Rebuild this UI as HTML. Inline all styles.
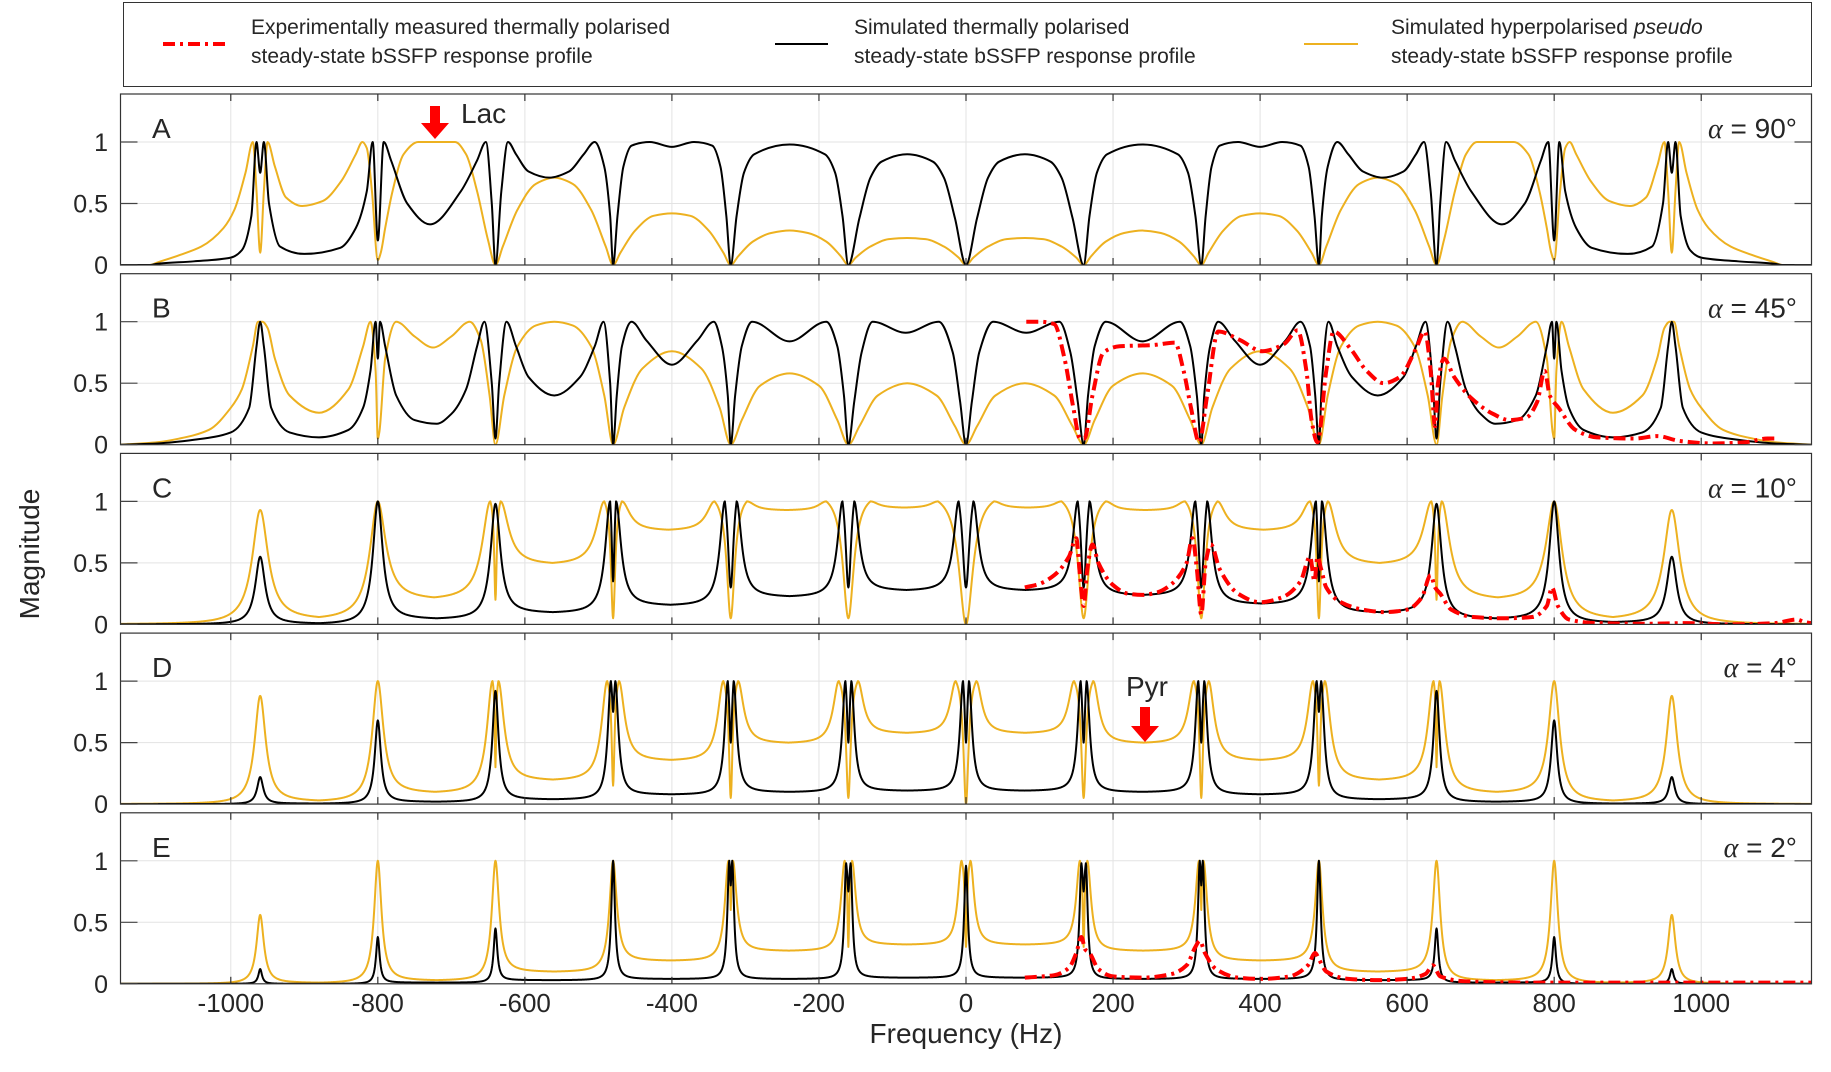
<!DOCTYPE html>
<html>
<head>
<meta charset="utf-8">
<style>
  html,body{margin:0;padding:0;background:#fff;}
  svg{display:block;}
  text{font-family:"Liberation Sans",Arial,sans-serif;fill:#262626;}
</style>
</head>
<body>
<svg id="chart" width="1831" height="1072" viewBox="0 0 1831 1072" xmlns="http://www.w3.org/2000/svg">
  <g id="legend">
    <rect x="123.5" y="2.5" width="1688" height="84" fill="#fff" stroke="#333" stroke-width="1"/>
    <g>
      <line x1="163" y1="44" x2="227" y2="44" stroke="#ff0000" stroke-width="4" stroke-dasharray="12 5 3 5"/>
      <text x="251" y="34" font-size="21">Experimentally measured thermally polarised</text>
      <text x="251" y="63" font-size="21">steady-state bSSFP response profile</text>
    </g>
    <g>
      <line x1="775" y1="44" x2="828" y2="44" stroke="#000" stroke-width="2"/>
      <text x="854" y="34" font-size="21">Simulated thermally polarised</text>
      <text x="854" y="63" font-size="21">steady-state bSSFP response profile</text>
    </g>
    <g>
      <line x1="1304" y1="44" x2="1358" y2="44" stroke="#EDB120" stroke-width="2"/>
      <text x="1391" y="34" font-size="21">Simulated hyperpolarised <tspan font-style="italic">pseudo</tspan></text>
      <text x="1391" y="63" font-size="21">steady-state bSSFP response profile</text>
    </g>
  </g>
  <g id="panels"></g>
  <text x="966" y="1043" font-size="28" text-anchor="middle">Frequency (Hz)</text>
  <text x="0" y="0" font-size="28" text-anchor="middle" transform="translate(39,554) rotate(-90)">Magnitude</text>
</svg>
<script>
// ---------------- data ----------------
const panelLetters = ["A","B","C","D","E"];
const flipAngles = ["90°","45°","10°","4°","2°"];
const xTicks = [-1000,-800,-600,-400,-200,0,200,400,600,800,1000];
const yTicks = [0,0.5,1];
const yTickLabels = ["0","0.5","1"];

// Panel A (symmetric, f >= 0 half)
const aBlackF = [0,15,30,45,80,115,130,145,160,168,178,192,240,288,302,312,320,326,334,345,370,400,430,455,466,474,480,484,492,505,520,540,567,595,612,623,632,640,645,653,665,687,729,760,782,792,800,807,815,830,851,900,933,948,955,960,965,972,985,1000,1050,1100,1110,1150];
const aBlackV = [0,.38,.71,.84,.9,.84,.71,.38,0,.4,.75,.9,.98,.9,.75,.4,0,.4,.8,.97,1,.96,1,.97,.8,.4,0,.4,.8,1,.9,.76,.71,.76,.9,1,.6,0,.5,1,.85,.6,.33,.5,.85,1,.2,1,.6,.3,.14,.09,.15,.5,1,.75,1,.4,.12,.06,.03,.01,0,0];
const aOrangeF = [0,10,30,55,80,105,130,150,160,170,190,215,240,265,290,310,320,330,350,375,400,425,450,470,480,490,510,535,560,585,610,630,640,650,665,680,695,745,765,780,790,796,800,808,815,821,830,850,875,903,925,940,950,955,960,965,970,980,995,1010,1040,1070,1100,1110,1150];
const aOrangeV = [0,.06,.15,.21,.22,.21,.15,.06,0,.07,.19,.26,.28,.26,.19,.07,0,.1,.28,.4,.42,.4,.28,.1,0,.15,.45,.66,.71,.66,.45,.15,0,.2,.6,.9,1,1,.9,.6,.3,.1,.04,.6,.95,1,.9,.68,.52,.48,.55,.8,1,.6,.1,.6,1,.75,.45,.3,.15,.08,.02,0,0];

// Panel B (symmetric half)
const bBlackF = [0,8,18,37,82,127,142,152,160,166,175,190,240,291,305,314,320,324,332,343,365,400,435,455,468,475,480,484,493,505,525,560,595,612,625,635,640,645,655,665,680,700,720,750,775,790,797,800,803,810,820,840,880,920,945,955,960,965,975,1000,1050,1100,1150];
const bBlackV = [0,.35,.75,1,.91,1,.75,.35,0,.4,.8,1,.84,1,.8,.4,0,.4,.8,1,.85,.65,.85,1,.8,.4,0,.5,1,.8,.55,.4,.55,.8,1,.5,.05,.5,1,.8,.45,.25,.17,.2,.4,.8,1,.7,1,.6,.3,.12,.06,.1,.3,.8,1,.8,.3,.1,.04,.01,0];
const bOrangeF = [0,15,40,80,120,145,160,175,200,240,280,305,320,335,360,400,440,465,480,492,510,535,560,585,610,628,640,648,660,675,700,725,750,775,790,798,800,803,810,820,840,880,920,940,950,957,963,970,985,1000,1030,1070,1100,1150];
const bOrangeV = [0,.15,.4,.5,.4,.15,0,.2,.48,.58,.48,.2,0,.3,.62,.76,.62,.3,0,.4,.8,.97,1,.97,.8,.4,0,.4,.85,1,.88,.79,.88,1,.7,.1,.05,.6,1,.8,.45,.26,.4,.7,.95,1,1,.8,.45,.3,.12,.05,.02,0];

// Experimental (red) series
const redBF = [82,100,120,134,146,155,161,172,187,209,254,284,296,306,317,328,343,373,403,433,451,463,470,478,490,500,523,545,568,590,612,624,632,638,642,650,664,687,717,739,762,777,787,794,806,829,858,910,940,971,1015,1060,1090,1100];
const redBV = [1,1,.98,.7,.3,.05,.05,.4,.75,.8,.81,.83,.6,.3,.02,.4,.92,.85,.76,.82,.93,.6,.2,.02,.6,.92,.78,.6,.5,.55,.78,.92,.6,.15,.5,.7,.55,.38,.25,.2,.22,.35,.6,.4,.3,.12,.06,.05,.07,.03,.01,.02,.05,.05];
const redCF = [80,100,120,140,150,155,160,165,172,180,200,220,240,260,280,300,308,314,320,326,333,345,370,400,430,455,468,474,478,483,490,510,540,570,600,620,632,638,645,660,690,730,770,790,797,805,820,860,920,980,1040,1100,1130,1140,1150];
const redCV = [.3,.33,.4,.55,.7,.4,.15,.45,.65,.5,.32,.25,.24,.26,.33,.5,.7,.45,.08,.5,.65,.45,.25,.18,.22,.35,.55,.35,.55,.45,.3,.18,.12,.1,.12,.22,.4,.3,.25,.12,.06,.05,.06,.15,.3,.15,.04,.01,.005,.01,0,.01,.04,.02,.01];
const redEF = [80,120,140,150,157,162,168,180,200,240,280,300,312,318,325,340,370,400,440,465,475,480,490,520,560,600,625,635,645,680,760,1150];
const redEV = [.05,.07,.13,.25,.38,.28,.25,.12,.06,.05,.08,.15,.3,.35,.25,.12,.05,.04,.06,.15,.25,.2,.1,.04,.03,.04,.08,.15,.06,.02,.01,.01];

// Panels C-E: resonance peaks at centres
const centers = [-960,-800,-640,-480,-320,-160,0,160,320,480,640,800,960];
const cBlackH = [.55,1,.98,1,1,1,1,1,1,1,.98,1,.55];
const cBlackSplit = [0,0,0,4,8,8,10,8,8,4,0,0,0];
const cBlackDip = [0,0,0,.35,.3,.3,.3,.3,.3,.35,0,0,0];
const cBlackValley = [0,.01,.05,.1,.16,.23,.28,.28,.24,.17,.1,.05,.02,0];
const cOrangeH = [.93,1,1,1,1,1,1,1,1,1,1,1,.93];
const cOrangeSplit = [0,0,7,12,22,30,38,30,22,12,7,0,0];
const cOrangeDip = [0,0,.2,.05,.05,.05,0,.05,.05,.05,.2,0,0];
const cOrangeValley = [0,.06,.22,.5,.77,.93,.95,.95,.93,.77,.5,.22,.06,0];
const dBlackH = [.22,.68,.92,1,1,1,1,1,1,1,.92,.68,.22];
const dBlackSplit = [0,0,0,3,4,4,4,4,4,3,0,0,0];
const dBlackDip = [0,0,0,.75,.5,.5,.5,.5,.5,.75,0,0,0];
const dBlackValley = [0,.005,.02,.04,.08,.1,.11,.11,.1,.08,.04,.02,.005,0];
const dOrangeH = [.88,1,1,1,1,1,1,1,1,1,1,1,.88];
const dOrangeSplit = [0,0,4,8,10,13,14,13,10,8,4,0,0];
const dOrangeDip = [0,0,.3,.15,.05,.05,0,.05,.05,.15,.3,0,0];
const dOrangeValley = [0,.03,.1,.2,.36,.5,.58,.58,.5,.36,.2,.1,.03,0];
const eBlackH = [.12,.38,.45,1,1,.98,.96,.98,1,1,.45,.38,.12];
const eBlackSplit = [0,0,0,0,2,3,0,3,2,0,0,0,0];
const eBlackDip = [0,0,0,0,.8,.75,0,.75,.8,0,0,0,0];
const eBlackValley = [0,0,.01,.03,.04,.04,.05,.05,.04,.04,.03,.01,0,0];
const eOrangeH = [.56,1,1,1,1,1,1,1,1,1,1,1,.56];
const eOrangeSplit = [0,0,0,0,3,5,6,5,3,0,0,0,0];
const eOrangeDip = [0,0,0,0,.6,.3,.3,.3,.6,0,0,0,0];
const eOrangeValley = [0,.01,.03,.1,.19,.27,.32,.32,.27,.19,.1,.03,.01,0];

// ---------------- axes ----------------
const xMin=-1150, xMax=1150, X0=120.5, X1=1811.5;
const zeroY=[265,444.7,624.4,804.1,983.8];
const yUnit=123, panelH=171;
function xs(f){return X0+(f-xMin)/(xMax-xMin)*(X1-X0);}
function ys(p,v){return zeroY[p]-v*yUnit;}

const NS="http://www.w3.org/2000/svg";
function mk(tag,attrs,parent){const e=document.createElementNS(NS,tag);for(const k in attrs)e.setAttribute(k,attrs[k]);parent.appendChild(e);return e;}

function mirror(F,V){const f=[],v=[];for(let i=F.length-1;i>0;i--){f.push(-F[i]);v.push(V[i]);}for(let i=0;i<F.length;i++){f.push(F[i]);v.push(V[i]);}return [f,v];}

function monotonePath(p,F,V){
  const n=F.length; if(n<2) return "";
  const d=[],m=new Array(n);
  for(let i=0;i<n-1;i++) d.push((V[i+1]-V[i])/(F[i+1]-F[i]));
  m[0]=d[0]; m[n-1]=d[n-2];
  for(let i=1;i<n-1;i++){ if(d[i-1]*d[i]<=0) m[i]=0; else { const w1=2*(F[i+1]-F[i])+(F[i]-F[i-1]), w2=(F[i+1]-F[i])+2*(F[i]-F[i-1]); m[i]=(w1+w2)/(w1/d[i-1]+w2/d[i]); } }
  let s="M"+xs(F[0]).toFixed(2)+","+ys(p,V[0]).toFixed(2);
  for(let i=0;i<n-1;i++){
    const h=F[i+1]-F[i];
    const c1f=F[i]+h/3, c1v=V[i]+m[i]*h/3, c2f=F[i+1]-h/3, c2v=V[i+1]-m[i+1]*h/3;
    s+="C"+xs(c1f).toFixed(2)+","+ys(p,c1v).toFixed(2)+" "+xs(c2f).toFixed(2)+","+ys(p,c2v).toFixed(2)+" "+xs(F[i+1]).toFixed(2)+","+ys(p,V[i+1]).toFixed(2);
  }
  return s;
}

function peakModel(f,H,S,Dp,Vl,w,notch){
  const n=centers.length;
  for(let i=0;i<n;i++){
    const s=S[i], dd=Math.abs(f-centers[i]);
    if(s>0 && dd<=s){
      const wn=s*notch, a=wn*wn;
      const base=a/(a+s*s);
      const K=(a/(a+dd*dd)-base)/(1-base);
      return Dp[i]+(H[i]-Dp[i])*(1-K);
    }
  }
  const w2=w*w;
  const pk=i=>centers[i];
  if(f<centers[0]-S[0]){const d=centers[0]-S[0]-f;return Vl[0]+(H[0]-Vl[0])*w2/(w2+d*d);}
  if(f>centers[n-1]+S[n-1]){const d=f-centers[n-1]-S[n-1];return Vl[n]+(H[n-1]-Vl[n])*w2/(w2+d*d);}
  let i=0; while(i<n-1 && !(f>=pk(i) && f<=pk(i+1))) i++;
  const pL=centers[i]+S[i], pR=centers[i+1]-S[i+1], D=(pR-pL)/2, m=Vl[i+1];
  const base=w2/(w2+D*D);
  const K=d=>Math.max(0,(w2/(w2+d*d)-base)/(1-base));
  return m+(H[i]-m)*K(f-pL)+(H[i+1]-m)*K(pR-f);
}
function modelPath(p,H,S,Dp,Vl,w,notch){
  let s="";
  for(let f=xMin;f<=xMax;f+=0.5){
    const v=Math.min(1.05,peakModel(f,H,S,Dp,Vl,w,notch));
    s+=(s?"L":"M")+xs(f).toFixed(2)+","+ys(p,v).toFixed(2);
  }
  return s;
}

const panelsG=document.getElementById("panels");
for(let p=0;p<5;p++){
  const top=zeroY[p]-panelH;
  const g=mk("g",{},panelsG);
  
  
  const cp=mk("clipPath",{id:"clip"+p},g);
  mk("rect",{x:X0,y:top,width:X1-X0,height:panelH},cp);
  const bg=mk("rect",{x:X0,y:top,width:X1-X0,height:panelH,fill:"#fff"},g);
  
  
  for(const t of xTicks){
    const l=mk("line",{x1:xs(t),x2:xs(t),y1:top,y2:zeroY[p],stroke:"#e3e3e3","stroke-width":1},g);
    
    
  }
  for(const t of [0.5,1]){
    const l=mk("line",{x1:X0,x2:X1,y1:ys(p,t),y2:ys(p,t),stroke:"#e3e3e3","stroke-width":1},g);
    
    
  }
  const cg=mk("g",{"clip-path":"url(#clip"+p+")"},g);
  let bl,or,red=null;
  if(p===0){const [of,ov]=mirror(aOrangeF,aOrangeV);or=monotonePath(p,of,ov);const [bf,bv]=mirror(aBlackF,aBlackV);bl=monotonePath(p,bf,bv);}
  if(p===1){const [of,ov]=mirror(bOrangeF,bOrangeV);or=monotonePath(p,of,ov);const [bf,bv]=mirror(bBlackF,bBlackV);bl=monotonePath(p,bf,bv);red=monotonePath(p,redBF,redBV);}
  if(p===2){or=modelPath(p,cOrangeH,cOrangeSplit,cOrangeDip,cOrangeValley,13,0.3);bl=modelPath(p,cBlackH,cBlackSplit,cBlackDip,cBlackValley,8,0.6);red=monotonePath(p,redCF,redCV);}
  if(p===3){or=modelPath(p,dOrangeH,dOrangeSplit,dOrangeDip,dOrangeValley,9,0.3);bl=modelPath(p,dBlackH,dBlackSplit,dBlackDip,dBlackValley,5,0.6);}
  if(p===4){or=modelPath(p,eOrangeH,eOrangeSplit,eOrangeDip,eOrangeValley,6,0.3);bl=modelPath(p,eBlackH,eBlackSplit,eBlackDip,eBlackValley,3,0.6);red=monotonePath(p,redEF,redEV);}
  const po=mk("path",{d:or,fill:"none",stroke:"#EDB120","stroke-width":2,"stroke-linejoin":"round"},cg);
  
  
  const pb=mk("path",{d:bl,fill:"none",stroke:"#000","stroke-width":2,"stroke-linejoin":"round"},cg);
  
  
  if(red){
    const pr=mk("path",{d:red,fill:"none",stroke:"#ff0000","stroke-width":4,"stroke-dasharray":"12 5 3 5"},cg);
    
    
  }
  const box=mk("rect",{x:X0,y:top,width:X1-X0,height:panelH,fill:"none",stroke:"#333","stroke-width":1.2},g);
  
  
  for(const t of xTicks){
    const a=mk("line",{x1:xs(t),x2:xs(t),y1:top,y2:top+7,stroke:"#333","stroke-width":1.2},g);
    
    
    const b=mk("line",{x1:xs(t),x2:xs(t),y1:zeroY[p]-7,y2:zeroY[p],stroke:"#333","stroke-width":1.2},g);
    
    
  }
  for(let k=0;k<yTicks.length;k++){
    const y=ys(p,yTicks[k]);
    const a=mk("line",{x1:X0,x2:X0+17,y1:y,y2:y,stroke:"#444","stroke-width":1.2},g);
    
    
    const b=mk("line",{x1:X1-17,x2:X1,y1:y,y2:y,stroke:"#444","stroke-width":1.2},g);
    
    
    const tl=mk("text",{x:108,y:y+9,"font-size":25,"text-anchor":"end"},g);
    tl.textContent=yTickLabels[k];
    
    
  }
  const lt=mk("text",{x:152,y:top+44,"font-size":28},g);
  lt.textContent=panelLetters[p];
  
  
  const at=mk("text",{x:1797,y:top+44,"font-size":28,"text-anchor":"end"},g);
  at.innerHTML='<tspan font-family="Liberation Serif, serif" font-style="italic">α</tspan> = '+flipAngles[p];
  
  
}
for(const t of xTicks){
  const tx=mk("text",{x:xs(t),y:1012,"font-size":26,"text-anchor":"middle"},document.getElementById("chart"));
  tx.textContent=String(t);
  
  
}
function arrow(cx,y0,y1,name,label,lx,ly){
  const svg=document.getElementById("chart");
  const g=mk("g",{},svg);
  
  
  const hh=16;
  mk("polygon",{points:[[cx-5,y0],[cx+5,y0],[cx+5,y1-hh],[cx+14,y1-hh],[cx,y1],[cx-14,y1-hh],[cx-5,y1-hh]].map(q=>q.join(",")).join(" "),fill:"#ff0000"},g);
  const t=mk("text",{x:lx,y:ly,"font-size":28},g);
  t.textContent=label;
}
arrow(435,106,139,"lac-annotation","Lac",461,123);
arrow(1145,707,742,"pyr-annotation","Pyr",1126,696);
</script>
</body>
</html>
